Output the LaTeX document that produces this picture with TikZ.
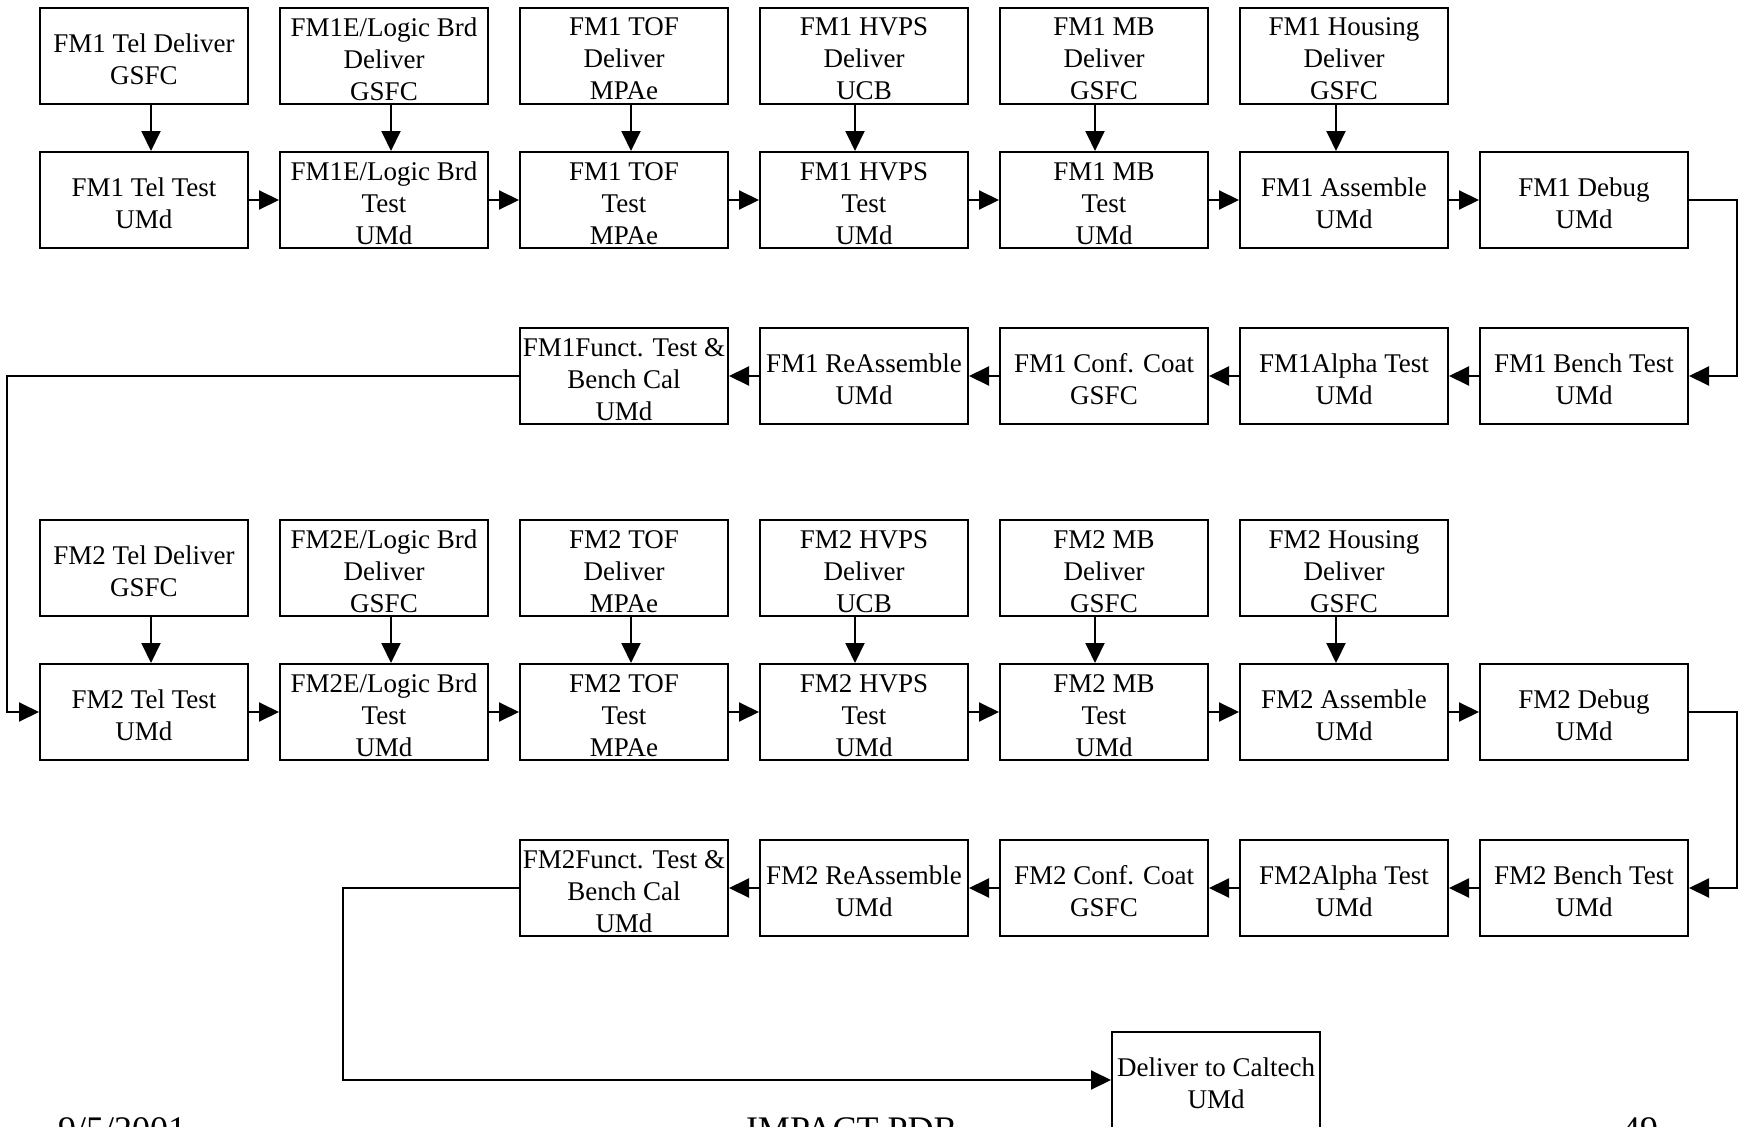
\documentclass[tikz,border=0pt]{standalone}
\usepackage{fontspec}
\setmainfont{Liberation Serif}
\usetikzlibrary{arrows.meta}
\newcommand\taskbox[3]{%
  \node[box] (#1) at (#2) {};
  \node[txt] (#1t) at ([yshift=-3.3pt]#1.center) {#3};}
\begin{document}
\begin{tikzpicture}[x=1pt,y=-1pt,line width=2pt,
  box/.style={draw,line width=2pt,minimum width=208pt,minimum height=96pt,inner sep=0pt},
  txt/.style={inner sep=0pt,align=center,font=\fontsize{27}{32}\selectfont},
  arr/.style={-{Triangle[length=20pt,width=19pt]},line width=2pt},
  foot/.style={font=\fontsize{36}{40}\selectfont,inner sep=0pt,anchor=base west}]
\useasboundingbox (0,0) rectangle (1738,1127);
% FM1 deliver row
\taskbox{a1}{144,55.5}{FM1 Tel Deliver\\GSFC}
\taskbox{a2}{384,55.5}{FM1E/Logic Brd\\Deliver\\GSFC}
\taskbox{a3}{624,55.5}{FM1 TOF\\Deliver\\MPAe}
\taskbox{a4}{864,55.5}{FM1 HVPS\\Deliver\\UCB}
\taskbox{a5}{1104,55.5}{FM1 MB\\Deliver\\GSFC}
\taskbox{a6}{1344,55.5}{FM1 Housing\\Deliver\\GSFC}
% FM1 test row
\taskbox{b1}{144,200}{FM1 Tel Test\\UMd}
\taskbox{b2}{384,200}{FM1E/Logic Brd\\Test\\UMd}
\taskbox{b3}{624,200}{FM1 TOF\\Test\\MPAe}
\taskbox{b4}{864,200}{FM1 HVPS\\Test\\UMd}
\taskbox{b5}{1104,200}{FM1 MB\\Test\\UMd}
\taskbox{b6}{1344,200}{FM1 Assemble\\UMd}
\taskbox{b7}{1584,200}{FM1 Debug\\UMd}
% FM1 return row
\taskbox{c3}{624,376}{FM1Funct. Test \&\\Bench Cal\\UMd}
\taskbox{c4}{864,376}{FM1 ReAssemble\\UMd}
\taskbox{c5}{1104,376}{FM1 Conf. Coat\\GSFC}
\taskbox{c6}{1344,376}{FM1Alpha Test\\UMd}
\taskbox{c7}{1584,376}{FM1 Bench Test\\UMd}
% FM2 deliver row
\taskbox{d1}{144,568}{FM2 Tel Deliver\\GSFC}
\taskbox{d2}{384,568}{FM2E/Logic Brd\\Deliver\\GSFC}
\taskbox{d3}{624,568}{FM2 TOF\\Deliver\\MPAe}
\taskbox{d4}{864,568}{FM2 HVPS\\Deliver\\UCB}
\taskbox{d5}{1104,568}{FM2 MB\\Deliver\\GSFC}
\taskbox{d6}{1344,568}{FM2 Housing\\Deliver\\GSFC}
% FM2 test row
\taskbox{e1}{144,712}{FM2 Tel Test\\UMd}
\taskbox{e2}{384,712}{FM2E/Logic Brd\\Test\\UMd}
\taskbox{e3}{624,712}{FM2 TOF\\Test\\MPAe}
\taskbox{e4}{864,712}{FM2 HVPS\\Test\\UMd}
\taskbox{e5}{1104,712}{FM2 MB\\Test\\UMd}
\taskbox{e6}{1344,712}{FM2 Assemble\\UMd}
\taskbox{e7}{1584,712}{FM2 Debug\\UMd}
% FM2 return row
\taskbox{f3}{624,888}{FM2Funct. Test \&\\Bench Cal\\UMd}
\taskbox{f4}{864,888}{FM2 ReAssemble\\UMd}
\taskbox{f5}{1104,888}{FM2 Conf. Coat\\GSFC}
\taskbox{f6}{1344,888}{FM2Alpha Test\\UMd}
\taskbox{f7}{1584,888}{FM2 Bench Test\\UMd}
% final
\taskbox{cal}{1216,1080}{Deliver to Caltech\\UMd}
% vertical arrows
\foreach \r/\s in {a/b,d/e}{
  \draw[arr] ([xshift=7pt]\r1.south) -- ([xshift=7pt]\s1.north);
  \draw[arr] ([xshift=7pt]\r2.south) -- ([xshift=7pt]\s2.north);
  \draw[arr] ([xshift=7pt]\r3.south) -- ([xshift=7pt]\s3.north);
  \draw[arr] ([xshift=-9pt]\r4.south) -- ([xshift=-9pt]\s4.north);
  \draw[arr] ([xshift=-9pt]\r5.south) -- ([xshift=-9pt]\s5.north);
  \draw[arr] ([xshift=-8pt]\r6.south) -- ([xshift=-8pt]\s6.north);
}
% horizontal chains
\foreach \r in {b,e}{
  \foreach \i/\j in {1/2,2/3,3/4,4/5,5/6,6/7}{
    \draw[arr] (\r\i.east) -- (\r\j.west);
  }
}
\foreach \r in {c,f}{
  \foreach \i/\j in {7/6,6/5,5/4,4/3}{
    \draw[arr] (\r\i.west) -- (\r\j.east);
  }
}
% loops
\draw[arr] (b7.east) -- ++(48,0) |- (c7.east);
\draw[arr] (e7.east) -- ++(48,0) |- (f7.east);
\draw[arr] (c3.west) -- ++(-512,0) |- (e1.west);
\draw[arr] (f3.west) -- ++(-176,0) |- (cal.west);
% footer
\node[foot] (date) at (57,1141) {9/5/2001};
\node[foot] (title) at (745,1141) {IMPACT PDR};
\node[foot] (page) at (1621,1141) {49};
\end{tikzpicture}
\end{document}
